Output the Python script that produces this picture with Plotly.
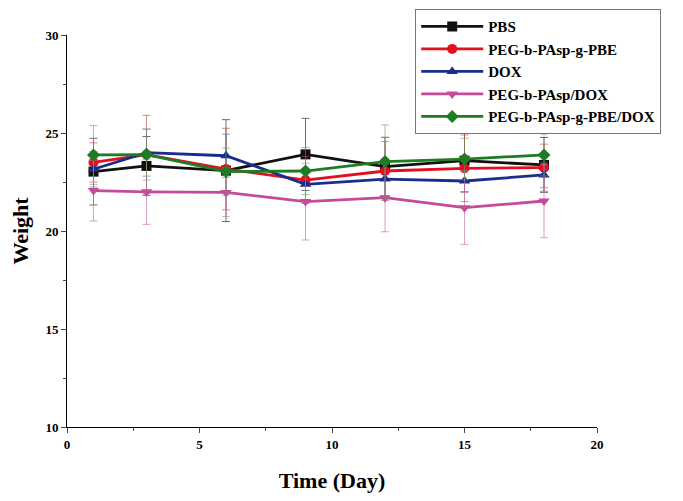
import plotly.graph_objects as go

days = [1, 3, 6, 9, 12, 15, 18]

names = ["PBS", "PEG-b-PAsp-g-PBE", "DOX", "PEG-b-PAsp/DOX", "PEG-b-PAsp-g-PBE/DOX"]

pbs = [23.03, 23.32, 23.08, 23.91, 23.28, 23.59, 23.37]
pbs_err = [1.7, 1.5, 2.6, 1.84, 1.5, 1.6, 1.4]

peg_pbe = [23.5, 23.9, 23.16, 22.6, 23.06, 23.2, 23.23]
peg_pbe_err = [1.0, 2.0, 2.08, 1.2, 1.5, 1.7, 1.2]

dox = [23.15, 24.0, 23.84, 22.38, 22.65, 22.55, 22.86]
dox_err = [0.9, 1.2, 1.1, 0.8, 0.9, 0.55, 0.65]

peg_dox = [22.06, 22.0, 21.97, 21.5, 21.7, 21.19, 21.53]
peg_dox_err = [1.55, 1.66, 1.24, 1.96, 1.74, 1.87, 1.87]

peg_pbe_dox = [23.88, 23.9, 23.03, 23.06, 23.54, 23.67, 23.88]
peg_pbe_dox_err = [1.5, 1.3, 1.2, 1.2, 1.87, 1.06, 1.07]

series = [pbs, peg_pbe, dox, peg_dox, peg_pbe_dox]
errors = [pbs_err, peg_pbe_err, dox_err, peg_dox_err, peg_pbe_dox_err]
colors = ["#111111", "#e0101e", "#1a2d8c", "#c44a9c", "#1e7d22"]
err_colors = ["rgba(60,60,60,0.75)", "rgba(200,60,60,0.6)", "rgba(80,100,170,0.6)",
              "rgba(200,120,170,0.7)", "rgba(110,150,90,0.6)"]
symbols = ["square", "circle", "triangle-up", "triangle-down", "diamond"]

fig = go.Figure()
for name, y, e, c, ec, s in zip(names, series, errors, colors, err_colors, symbols):
    fig.add_trace(go.Scatter(
        x=days, y=y, name=name, mode="lines+markers",
        line=dict(color=c, width=2.8),
        marker=dict(symbol=s, size=10, color=c),
        error_y=dict(type="data", array=e, visible=True, color=ec, thickness=1, width=4),
    ))

font_family = "Liberation Serif, Times New Roman, serif"

fig.update_layout(
    width=675, height=493,
    margin=dict(l=59, r=86, t=27, b=74, autoexpand=False),
    plot_bgcolor="white", paper_bgcolor="white",
    font=dict(family=font_family, color="black"),
    legend=dict(
        x=0.657, y=1.066, xanchor="left", yanchor="top",
        bgcolor="white", bordercolor="#777777", borderwidth=1,
        font=dict(family=font_family, size=15, color="black", weight="bold"),
        tracegroupgap=0, itemwidth=62,
    ),
    xaxis=dict(
        range=[0, 20], tickvals=[0, 5, 10, 15, 20], ticks="outside", ticklen=5,
        showline=True, linecolor="black", linewidth=1, showgrid=False, zeroline=False,
        minor=dict(ticks="outside", ticklen=3, dtick=2.5, tick0=0, showgrid=False),
        tickfont=dict(size=13, weight="bold"),
        title=dict(text="Time (Day)", font=dict(size=22, weight="bold"), standoff=22),
    ),
    yaxis=dict(
        range=[10, 30], tickvals=[10, 15, 20, 25, 30], ticks="outside", ticklen=5,
        showline=True, linecolor="black", linewidth=1, showgrid=False, zeroline=False,
        minor=dict(ticks="outside", ticklen=3, dtick=2.5, tick0=0, showgrid=False),
        tickfont=dict(size=13, weight="bold"),
        title=dict(text="Weight", font=dict(size=22, weight="bold"), standoff=18),
    ),
)

fig.write_html("out.html")
